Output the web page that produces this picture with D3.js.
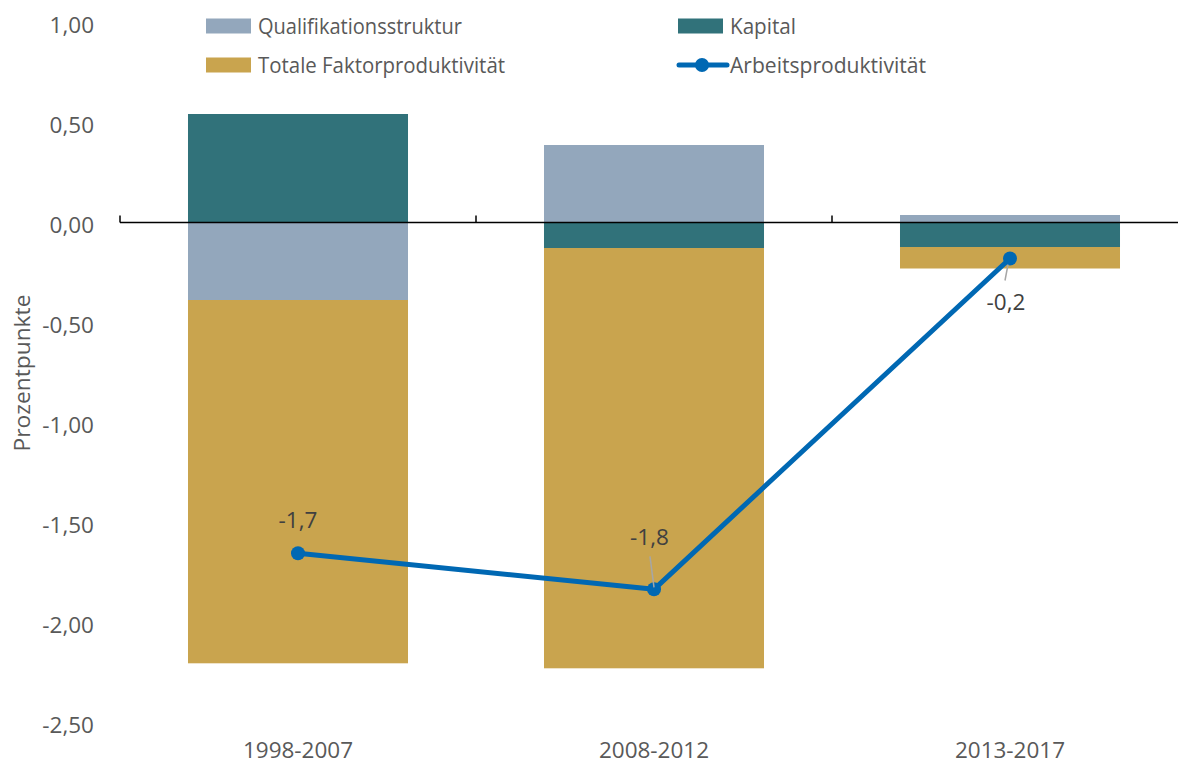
<!DOCTYPE html>
<html><head><meta charset="utf-8">
<script src="https://cdn.jsdelivr.net/npm/d3@7"></script>
<style>body{margin:0;background:#fff}svg{display:block}text{font-family:"Open Sans","Liberation Sans",Arial,sans-serif;fill:#595959}</style>
</head><body><svg id="c" width="1178" height="766"></svg>
<script>
const categories = ["1998-2007","2008-2012","2013-2017"];
const qualifikation = [-0.3875, 0.3875, 0.0375];
const kapital = [0.5425, -0.1275, -0.1225];
const tfp = [-1.8165, -2.1015, -0.1075];
const arbeit = [-1.654, -1.834, -0.18];
const arbeitLabels = ["-1,7","-1,8","-0,2"];
const yTicks = [1,0.5,0,-0.5,-1,-1.5,-2,-2.5];
const seriesNames = ["Qualifikationsstruktur","Kapital","Totale Faktorproduktivität","Arbeitsproduktivität"];
const colors = {q:"#93A7BC", k:"#31727A", t:"#C9A44E", l:"#0068B3"};

const svg = d3.select("#c");
const y = d3.scaleLinear().domain([-2.5,1]).range([722.5,22.5]);
const x = d3.scaleBand().domain(categories).range([120,1188]).paddingInner(0.382).paddingOuter(0.191);
const FS = "22.5px";

// y tick labels
svg.append("g").selectAll("text").data(yTicks).join("text")
  .attr("x",94).attr("y",d=>y(d)+2).attr("dy","0.36em").attr("text-anchor","end")
  .style("font-size",FS).text(d=>d3.format(".2f")(d).replace(".",",").replace("−","-"));

// stacked bars
const stacks = categories.map((c,i)=>{
  const vals = {q:qualifikation[i], k:kapital[i], t:tfp[i]};
  let pos=0, neg=0; const out=[];
  const negOrder = i===0 ? ["q","t","k"] : ["k","t","q"];
  ["q","k","t"].forEach(key=>{const v=vals[key]; if(v>=0){out.push({key,c,y0:pos,y1:pos+v});pos+=v;}});
  negOrder.forEach(key=>{const v=vals[key]; if(v<0){out.push({key,c,y0:neg,y1:neg+v});neg+=v;}});
  return out;
}).flat();
svg.append("g").selectAll("rect").data(stacks).join("rect")
  .attr("x",d=>x(d.c)).attr("width",x.bandwidth())
  .attr("y",d=>y(Math.max(d.y0,d.y1))).attr("height",d=>Math.abs(y(d.y0)-y(d.y1)))
  .attr("fill",d=>colors[d.key]);

// zero axis with ticks upward
const ax = svg.append("g");
ax.append("line").attr("x1",120).attr("x2",1178).attr("y1",y(0)).attr("y2",y(0)).attr("stroke","#000").attr("stroke-width",1.5);
const tickXs = categories.map(c=>x(c)-x.step()*x.paddingInner()/2).concat([1188]);
ax.selectAll(".tk").data(tickXs).join("line").attr("x1",d=>d).attr("x2",d=>d)
  .attr("y1",y(0)).attr("y2",y(0)-7).attr("stroke","#000").attr("stroke-width",1.5);

// category labels
svg.append("g").selectAll("text").data(categories).join("text")
  .attr("x",d=>x(d)+x.bandwidth()/2).attr("y",750).attr("dy","0.36em").attr("text-anchor","middle")
  .style("font-size",FS).text(d=>d);

// line
const cx = d=>x(d)+x.bandwidth()/2;
const pts = categories.map((c,i)=>[cx(c), y(arbeit[i])]);
svg.append("path").attr("d",d3.line()(pts)).attr("fill","none").attr("stroke",colors.l).attr("stroke-width",5).attr("stroke-linejoin","round");
svg.append("g").selectAll("circle").data(pts).join("circle").attr("cx",d=>d[0]).attr("cy",d=>d[1]).attr("r",7).attr("fill",colors.l);

// data labels
const lblOff = [[0,-33],[-4.5,-52],[-4,43]];
svg.append("line").attr("x1",pts[1][0]-4).attr("y1",pts[1][1]-33).attr("x2",pts[1][0]).attr("y2",pts[1][1]-2).attr("stroke","#A6A6A6").attr("stroke-width",1.5);
svg.append("line").attr("x1",pts[2][0]-2).attr("y1",pts[2][1]+6).attr("x2",pts[2][0]-5).attr("y2",pts[2][1]+22).attr("stroke","#A6A6A6").attr("stroke-width",1.5);
categories.forEach((c,i)=>{
  const [px,py]=pts[i]; const [dx,dy]=lblOff[i];
  svg.append("text").attr("x",px+dx).attr("y",py+dy).attr("dy","0.36em").attr("text-anchor","middle")
    .style("font-size",FS).style("fill","#404040").text(arbeitLabels[i]);
});

// y title
svg.append("text").attr("transform","translate(22,373) rotate(-90)").attr("text-anchor","middle").attr("dy","0.36em")
  .style("font-size","22px").attr("textLength",157).attr("lengthAdjust","spacingAndGlyphs").text("Prozentpunkte");

// legend
const leg = svg.append("g");
const legItems = [
  {name:seriesNames[0], key:"q", x:206, y:26, w:204},
  {name:seriesNames[1], key:"k", x:678, y:26, w:66},
  {name:seriesNames[2], key:"t", x:206, y:65, w:247},
  {name:seriesNames[3], key:"l", x:678, y:65, w:196, line:true}
];
legItems.forEach(it=>{
  if(it.line){
    leg.append("line").attr("x1",it.x+1).attr("x2",it.x+49).attr("y1",it.y).attr("y2",it.y).attr("stroke",colors.l).attr("stroke-width",5).attr("stroke-linecap","round");
    leg.append("circle").attr("cx",it.x+24).attr("cy",it.y).attr("r",7).attr("fill",colors.l);
  } else {
    leg.append("rect").attr("x",it.x).attr("y",it.y-7.5).attr("width",45).attr("height",15).attr("fill",colors[it.key]);
  }
  leg.append("text").attr("x",it.x+52).attr("y",it.y).attr("dy","0.36em").style("font-size","22px")
    .attr("textLength",it.w).attr("lengthAdjust","spacingAndGlyphs").text(it.name);
});
</script></body></html>
